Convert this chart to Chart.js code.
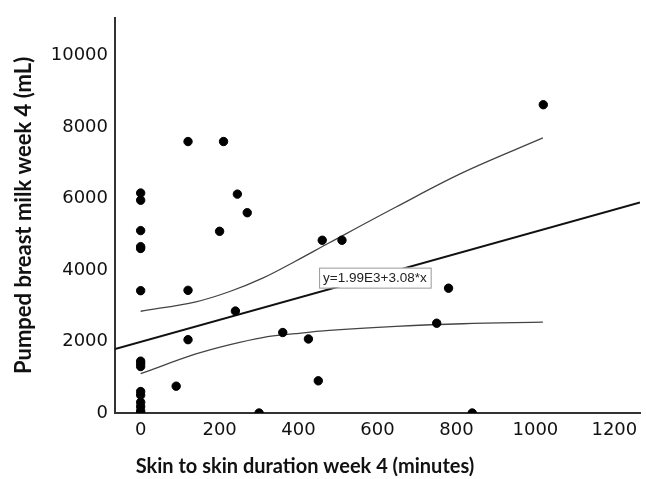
<!DOCTYPE html>
<html>
<head>
<meta charset="utf-8">
<script src="https://cdn.jsdelivr.net/npm/chart.js@4"></script>
<style>
  html, body { margin: 0; padding: 0; background: #fff; }
  #wrap { width: 646px; height: 479px; }
</style>
</head>
<body>
<div id="wrap"><canvas id="c"></canvas></div>
<script>
// observed points (minutes, mL)
const skinX = [0,0,0,0,0,0,0,0,0,0,0,0,0,0,0,
  90,120,120,120,200,210,240,245,270,300,360,425,450,460,510,750,780,840,1020];
const milkY = [6150,5950,5100,4650,4600,3420,1450,1380,1300,600,500,300,180,60,0,
  750,3430,2050,7590,5080,7590,2850,6120,5600,0,2250,2070,900,4830,4830,2510,3490,0,8620];

// fit line ends
const fitX = [-65, 1265];
const fitY = [1790, 5885];

// confidence band
const bandX = [0, 140, 224, 309, 393, 478, 647, 816, 1019];
const bandUpper = [2845, 3110, 3390, 3770, 4250, 4760, 5760, 6720, 7690];
const bandLower = [1100, 1650, 1906, 2110, 2220, 2310, 2420, 2495, 2540];

const xTicks = [0, 200, 400, 600, 800, 1000, 1200];
const yTicks = [0, 2000, 4000, 6000, 8000, 10000];
const eqText = "y=1.99E3+3.08*x";
const xTitle = "Skin to skin duration week 4 (minutes)";
const yTitle = "Pumped breast milk week 4 (mL)";

const pts = (xs, ys) => xs.map((x, i) => ({ x: x, y: ys[i] }));

const extras = {
  id: 'extras',
  afterDraw(chart) {
    const ctx = chart.ctx;
    const xs = chart.scales.x, ys = chart.scales.y;
    // equation box
    ctx.save();
    ctx.font = '13.5px "Liberation Sans", Arial, sans-serif';
    const w = ctx.measureText(eqText).width + 8;
    const bx = xs.getPixelForValue(452), by = ys.getPixelForValue(3785);
    ctx.fillStyle = '#fff';
    ctx.fillRect(bx, by - 10, w, 20);
    ctx.strokeStyle = '#999';
    ctx.lineWidth = 1;
    ctx.strokeRect(bx + 0.5, by - 9.5, w, 20);
    ctx.fillStyle = '#222';
    ctx.textBaseline = 'middle';
    ctx.fillText(eqText, bx + 4, by + 1);
    // x title
    ctx.font = 'bold 20px "Lato", sans-serif';
    ctx.textAlign = 'center';
    ctx.fillStyle = '#111';
    ctx.fillText(xTitle, 305, 467);
    ctx.restore();
  }
};

const bandStyle = { showLine: true, borderColor: '#444', borderWidth: 1.3, pointRadius: 0, tension: 0.35 };

new Chart(document.getElementById('c'), {
  type: 'scatter',
  data: {
    datasets: [
      {
        data: pts(skinX, milkY),
        backgroundColor: '#000',
        borderColor: '#000',
        pointRadius: 4.2,
        pointHoverRadius: 4.2
      },
      {
        data: pts(fitX, fitY),
        showLine: true,
        borderColor: '#111',
        borderWidth: 2,
        pointRadius: 0
      },
      Object.assign({ data: pts(bandX, bandUpper) }, bandStyle),
      Object.assign({ data: pts(bandX, bandLower) }, bandStyle)
    ]
  },
  options: {
    responsive: true,
    maintainAspectRatio: false,
    animation: false,
    layout: { padding: { left: 0, top: 13, right: 6, bottom: 0 } },
    plugins: { legend: { display: false }, tooltip: { enabled: false } },
    scales: {
      x: {
        type: 'linear',
        min: -65,
        max: 1265,
        afterFit: s => { s.height = 66; },
        afterBuildTicks: s => { s.ticks = xTicks.map(v => ({ value: v })); },
        grid: { display: false, drawTicks: false },
        border: { display: true, color: '#333', width: 2 },
        ticks: { color: '#111', padding: 7, callback: v => String(v),
                 font: { family: '"DejaVu Sans", sans-serif', size: 18 } }
      },
      y: {
        type: 'linear',
        min: 0,
        max: 11050,
        afterFit: s => { s.width = 115; },
        afterBuildTicks: s => { s.ticks = yTicks.map(v => ({ value: v })); },
        grid: { display: false, drawTicks: false },
        border: { display: true, color: '#333', width: 2 },
        ticks: { color: '#111', padding: 7, callback: v => String(v),
                 font: { family: '"DejaVu Sans", sans-serif', size: 18 } },
        title: {
          display: true,
          text: yTitle,
          color: '#111',
          padding: { top: 11, bottom: 0 },
          font: { family: '"Lato", sans-serif', size: 22, weight: 'bold' }
        }
      }
    }
  },
  plugins: [extras]
});
</script>
</body>
</html>
